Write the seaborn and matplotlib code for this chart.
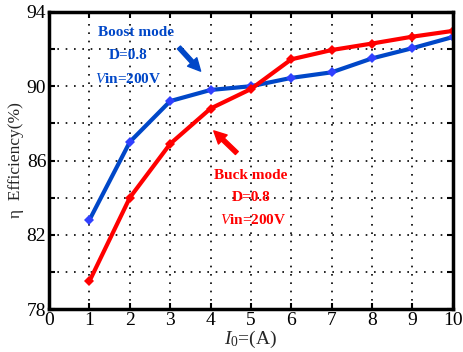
import matplotlib
matplotlib.use("Agg")
import matplotlib.pyplot as plt
import seaborn as sns
import pandas as pd
from matplotlib.ticker import MultipleLocator, FixedLocator

current = [1, 2, 3, 4, 5, 6, 7, 8, 9, 10]
boost_eff = [82.8, 87.0, 89.2, 89.8, 90.0, 90.45, 90.75, 91.5, 92.05, 92.65]
buck_eff = [79.5, 84.0, 86.9, 88.8, 89.85, 91.45, 91.95, 92.3, 92.67, 92.98]
y_ticks = [78, 82, 86, 90, 94]
y_minor = [80, 84, 88, 92]

df = pd.DataFrame({
    "I": current * 2,
    "eff": boost_eff + buck_eff,
    "mode": ["Boost"] * len(current) + ["Buck"] * len(current),
})

sns.set_style("ticks")
plt.rcParams["font.family"] = ["Liberation Serif", "DejaVu Serif"]
plt.rcParams["mathtext.fontset"] = "custom"
plt.rcParams["mathtext.rm"] = "Liberation Serif"
plt.rcParams["mathtext.it"] = "Liberation Serif:italic"
plt.rcParams["mathtext.bf"] = "Liberation Serif:bold"

blue = "#0047c8"
red = "#ff0000"

fig, ax = plt.subplots(figsize=(4.63, 3.52), dpi=100)
fig.subplots_adjust(left=0.106, right=0.978, top=0.966, bottom=0.122)

sns.lineplot(data=df, x="I", y="eff", hue="mode", palette={"Boost": blue, "Buck": red},
             linewidth=3, marker="D", markersize=5, markeredgewidth=0, legend=False, ax=ax)
for line, mc in zip(ax.get_lines(), ["#3040ff", red]):
    line.set_markerfacecolor(mc)

ax.set_xlim(0, 10)
ax.set_ylim(78, 94)
ax.xaxis.set_major_locator(MultipleLocator(1))
ax.yaxis.set_major_locator(FixedLocator(y_ticks))
ax.yaxis.set_minor_locator(FixedLocator(y_minor))
ax.grid(True, which="both", color="black", linestyle=(0, (1, 4)), linewidth=1.2)
ax.tick_params(axis="both", which="both", direction="in", top=True, right=True,
               labelsize=14, width=1.5, length=4, colors="black", pad=2)
ax.tick_params(axis="both", which="minor", labelleft=False)
for s in ax.spines.values():
    s.set_linewidth(2.5)
    s.set_color("black")
    s.set_visible(True)

ax.set_xlabel(r"$I_0$=(A)", fontsize=14, labelpad=0)
ax.set_ylabel("η  Efficiency(%)", fontsize=12.5, labelpad=2)

kw = dict(fontsize=11, fontweight="bold", ha="center", va="center")
ax.text(2.15, 92.9, "Boost mode", color=blue, **kw)
ax.text(1.95, 91.68, "D=0.8", color=blue, **kw)
ax.text(1.95, 90.4, r"$\mathit{V}$in=200V", color=blue, **kw)
ax.annotate("", xy=(3.8, 90.7), xytext=(3.17, 92.2),
            arrowprops=dict(arrowstyle="simple,head_width=0.9,head_length=0.9,tail_width=0.3",
                            color=blue))

ax.text(5.0, 85.2, "Buck mode", color=red, **kw)
ax.text(5.0, 84.0, "D=0.8", color=red, **kw)
ax.text(5.05, 82.8, r"$\mathit{V}$in=200V", color=red, **kw)
ax.annotate("", xy=(4.03, 87.7), xytext=(4.7, 86.3),
            arrowprops=dict(arrowstyle="simple,head_width=0.9,head_length=0.9,tail_width=0.3",
                            color=red))

fig.savefig("out.png", dpi=100)
